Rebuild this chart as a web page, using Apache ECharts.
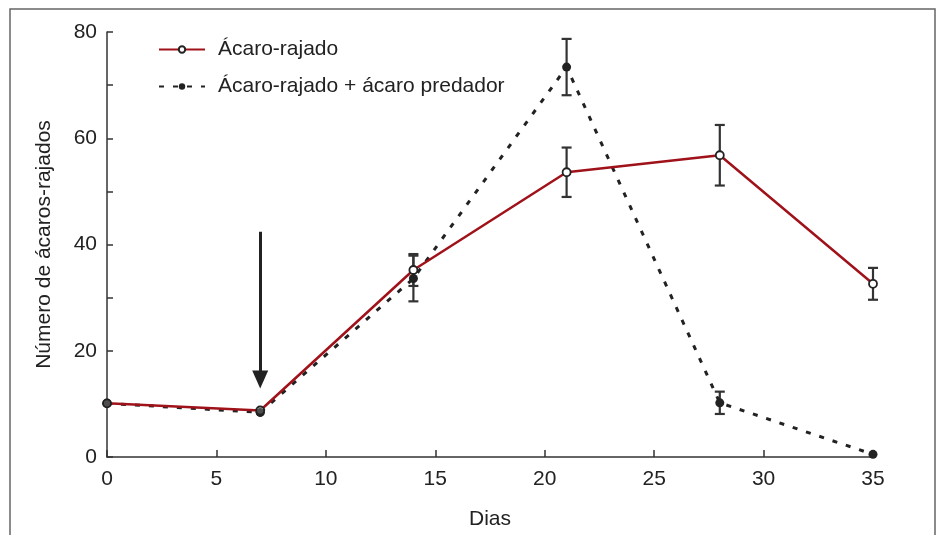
<!DOCTYPE html>
<html>
<head>
<meta charset="utf-8">
<script src="https://cdn.jsdelivr.net/npm/echarts@6/dist/echarts.min.js"></script>
<style>
html,body{margin:0;padding:0;background:#fff;}
#c{width:942px;height:535px;}
</style>
</head>
<body>
<div id="c"></div>
<script>
var days = [0, 7, 14, 21, 28, 35];
var acaroRajado = [10.1, 8.75, 35.2, 53.6, 56.8, 32.6];
var acaroRajadoErr = [0, 0, 3.0, 4.65, 5.7, 3.0];
var comPredador = [10.1, 8.4, 33.6, 73.4, 10.2, 0.5];
var comPredadorErr = [0, 0, 4.3, 5.3, 2.1, 0];
var xTicks = [0, 5, 10, 15, 20, 25, 30, 35];
var yTicks = [0, 20, 40, 60, 80];
var arrowFrom = [7, 42.4];
var arrowTo = [7, 14.6];
var seriesNames = ['Ácaro-rajado', 'Ácaro-rajado + ácaro predador'];

function pairs(xs, ys) { return xs.map(function (x, i) { return [x, ys[i]]; }); }
function errData(xs, ys, es) {
  var out = [];
  xs.forEach(function (x, i) { if (es[i] > 0) out.push([x, ys[i] - es[i], ys[i] + es[i]]); });
  return out;
}
function errRender(params, api) {
  var x = api.value(0);
  var lo = api.coord([x, api.value(1)]);
  var hi = api.coord([x, api.value(2)]);
  var hw = 5;
  var st = { stroke: '#333', lineWidth: 2.2 };
  return {
    type: 'group',
    children: [
      { type: 'line', shape: { x1: lo[0], y1: lo[1], x2: hi[0], y2: hi[1] }, style: st },
      { type: 'line', shape: { x1: lo[0] - hw, y1: lo[1], x2: lo[0] + hw, y2: lo[1] }, style: st },
      { type: 'line', shape: { x1: hi[0] - hw, y1: hi[1], x2: hi[0] + hw, y2: hi[1] }, style: st }
    ]
  };
}

var FONT = 'Liberation Sans, Arial, sans-serif';
var chart = echarts.init(document.getElementById('c'));
chart.setOption({
  animation: false,
  backgroundColor: '#fff',
  textStyle: { fontFamily: FONT },
  graphic: [{
    type: 'rect', silent: true, z: -1,
    shape: { x: 10, y: 9, width: 925, height: 600 },
    style: { fill: 'none', stroke: '#666', lineWidth: 1.5 }
  }],
  grid: { left: 107, right: 69, top: 32, bottom: 76 },
  legend: {
    orient: 'vertical', left: 153, top: 34, itemGap: 16,
    itemWidth: 46, itemHeight: 8,
    textStyle: { fontSize: 21, color: '#222', fontFamily: FONT, padding: [0, 0, 0, 8] },
    data: seriesNames
  },
  xAxis: {
    type: 'value', min: 0, max: 35, interval: 5,
    name: 'Dias', nameLocation: 'middle', nameGap: 52,
    nameTextStyle: { fontSize: 21, color: '#222', fontFamily: FONT },
    axisLine: { lineStyle: { color: '#333', width: 1.5 } },
    axisTick: { inside: true, length: 7, lineStyle: { color: '#333', width: 1.5 } },
    axisLabel: { fontSize: 21, color: '#222', margin: 12, fontFamily: FONT,
      formatter: function (v) { return xTicks.indexOf(v) >= 0 ? String(v) : ''; } },
    splitLine: { show: false }
  },
  yAxis: {
    type: 'value', min: 0, max: 80, interval: 10,
    name: 'Número de ácaros-rajados', nameLocation: 'middle', nameGap: 52,
    nameTextStyle: { fontSize: 21, color: '#222', fontFamily: FONT },
    axisLine: { show: true, lineStyle: { color: '#333', width: 1.5 } },
    axisTick: { show: true, inside: true, length: 6, lineStyle: { color: '#333', width: 1.5 } },
    axisLabel: { fontSize: 21, color: '#222', margin: 10, fontFamily: FONT,
      formatter: function (v) { return yTicks.indexOf(v) >= 0 ? String(v) : ''; } },
    splitLine: { show: false }
  },
  series: [
    {
      type: 'custom', name: 'err1', renderItem: errRender, silent: true, z: 1,
      data: errData(days, acaroRajado, acaroRajadoErr), encode: { x: 0, y: [1, 2] }
    },
    {
      type: 'custom', name: 'err2', renderItem: errRender, silent: true, z: 1,
      data: errData(days, comPredador, comPredadorErr), encode: { x: 0, y: [1, 2] }
    },
    {
      type: 'line', name: seriesNames[1], data: pairs(days, comPredador), z: 3,
      symbol: 'circle', symbolSize: 9,
      lineStyle: { color: '#222', width: 3, type: [5, 9] },
      itemStyle: { color: '#222', borderColor: '#222', borderWidth: 0 },
      markLine: {
        silent: true, symbol: ['none', 'triangle'], symbolSize: [16, 18],
        label: { show: false },
        lineStyle: { color: '#222', width: 3, type: 'solid' },
        data: [[{ coord: arrowFrom }, { coord: arrowTo }]]
      }
    },
    {
      type: 'line', name: seriesNames[0], data: pairs(days, acaroRajado), z: 4,
      symbol: 'circle', symbolSize: 8, showAllSymbol: true,
      lineStyle: { color: '#a0121a', width: 2.5 },
      itemStyle: { color: '#fff', borderColor: '#222', borderWidth: 1.8 }
    },
    {
      type: 'scatter', name: 'pontos-predador', data: pairs(days.slice(0, 2), comPredador.slice(0, 2)), z: 5,
      symbol: 'circle', symbolSize: 9, silent: true,
      itemStyle: { color: '#222' }
    }
  ]
});
</script>
</body>
</html>
